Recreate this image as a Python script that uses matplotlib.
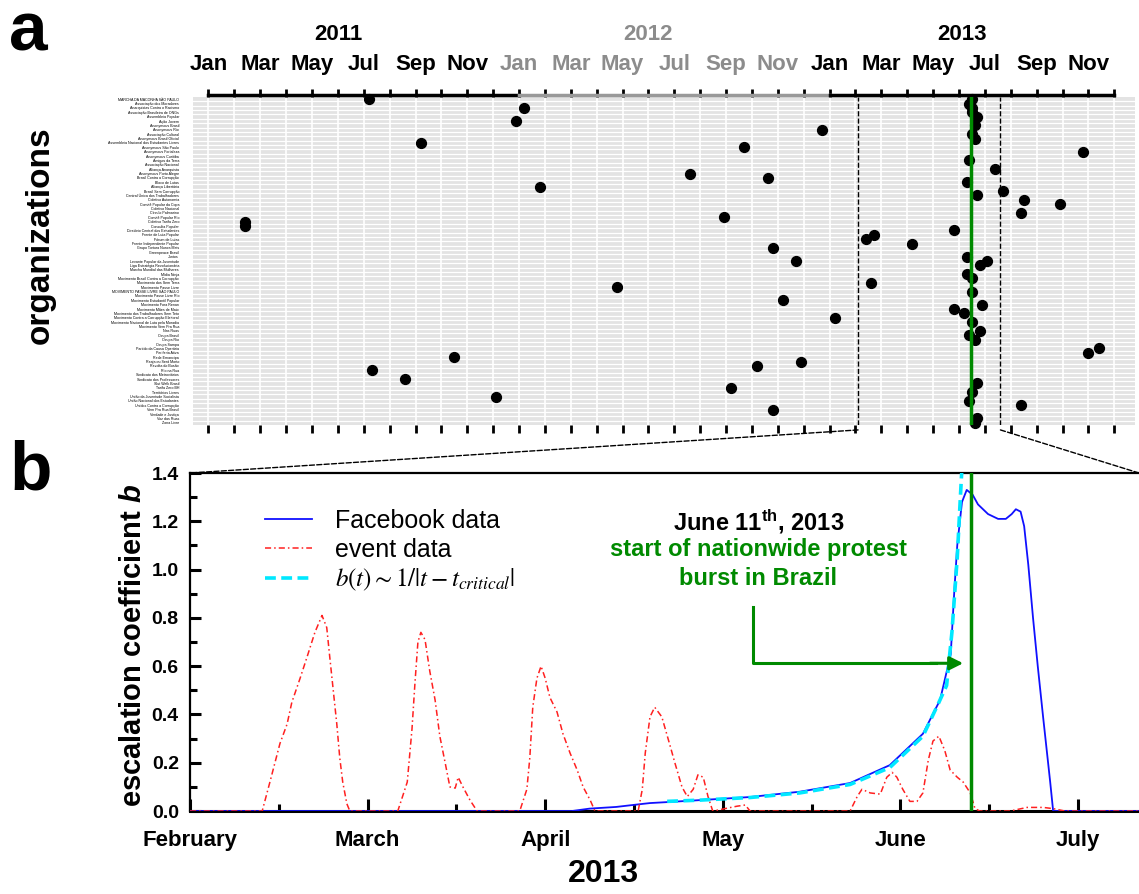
import matplotlib
matplotlib.use('Agg')
import matplotlib.pyplot as plt
import matplotlib.transforms as mtransforms
from matplotlib.patches import ConnectionPatch
from matplotlib.ticker import MultipleLocator, FormatStrFormatter

plt.rcParams['font.family'] = ['Liberation Sans', 'DejaVu Sans']
plt.rcParams['mathtext.fontset'] = 'custom'
plt.rcParams['mathtext.rm'] = 'Liberation Sans:bold'
plt.rcParams['mathtext.it'] = 'Liberation Sans:italic:bold'
plt.rcParams['mathtext.bf'] = 'Liberation Sans:bold'

# ---- panel a: organizations vs time (months since Jan 2011) ----
orgs = [
    "MARCHA DA MACONHA SÃO PAULO", "Associação dos Moradores", "Anarquistas Contra o Racismo",
    "Associação Brasileira de ONGs", "Assembleia Popular", "Ação Jovem", "Anonymous Brasil",
    "Anonymous Rio", "Associação Cultural", "Anonymous Brasil Oficial",
    "Assembleia Nacional dos Estudantes Livres", "Anonymous São Paulo", "Anonymous Fortaleza",
    "Anonymous Curitiba", "Amigos da Terra", "Associação Nacional", "Aliança Anarquista",
    "Anonymous Porto Alegre", "Brasil Contra a Corrupção", "Bloco de Lutas", "Aliança Libertária",
    "Brasil Sem Corrupção", "Central Única dos Trabalhadores", "Coletivo Autonomia",
    "Comitê Popular da Copa", "Coletivo Nacional", "Círculo Palmarino", "Comitê Popular Rio",
    "Coletivo Tarifa Zero", "Consulta Popular", "Diretório Central dos Estudantes",
    "Frente de Luta Popular", "Fórum de Lutas", "Frente Independente Popular",
    "Grupo Tortura Nunca Mais", "Greenpeace Brasil", "Juntos", "Levante Popular da Juventude",
    "Liga Estratégia Revolucionária", "Marcha Mundial das Mulheres", "Mídia Ninja",
    "Movimento Brasil Contra a Corrupção", "Movimento dos Sem Terra", "Movimento Passe Livre",
    "MOVIMENTO PASSE LIVRE SÃO PAULO", "Movimento Passe Livre Rio", "Movimento Estudantil Popular",
    "Movimento Fora Renan", "Movimento Mães de Maio", "Movimento dos Trabalhadores Sem Teto",
    "Movimento Contra a Corrupção Eleitoral", "Movimento Nacional de Luta pela Moradia",
    "Movimento Vem Pra Rua", "Nas Ruas", "Ocupa Brasil", "Ocupa Rio", "Ocupa Sampa",
    "Partido da Causa Operária", "Periferia Ativa", "Rede Emancipa", "Reaja ou Será Morto",
    "Revolta do Busão", "Rio na Rua", "Sindicato dos Metroviários", "Sindicato dos Professores",
    "Slut Walk Brasil", "Tarifa Zero BH", "Territórios Livres", "União da Juventude Socialista",
    "União Nacional dos Estudantes", "Unidos Contra a Corrupção", "Vem Pra Rua Brasil",
    "Verdade e Justiça", "Voz das Ruas", "Zona Livre",
]

event_month = [6.2, 12.2, 11.9, 8.2, 12.8, 1.4, 1.4, 15.8, 9.5, 6.3, 7.6, 11.1,
               23.7, 20.7, 18.6, 21.6, 19.9, 21.8, 22.7, 22.2, 24.2, 22.9, 21.2, 20.2, 21.8,
               33.8, 30.4, 30.7, 31.5, 31.4, 32.9, 25.4, 25.7, 27.2, 28.8, 25.6, 29.9, 28.8,
               29.2, 29.8, 30.1, 29.8, 34.0, 34.4, 31.4,
               29.5, 29.4, 29.5, 29.5, 29.7, 29.6, 29.5, 29.6, 29.4, 29.3, 29.7, 29.3, 29.3,
               29.5, 29.5, 29.5, 29.4, 29.6, 29.7, 29.5, 29.4, 29.7, 29.6]
event_row = [0, 2, 5, 10, 20, 28, 29, 43, 59, 62, 64, 68,
             7, 11, 17, 18, 27, 34, 37, 46, 50, 60, 61, 66, 71,
             12, 16, 21, 23, 26, 24, 32, 31, 33, 30, 42, 47, 48,
             49, 38, 37, 53, 58, 57, 70,
             0, 1, 2, 3, 4, 6, 8, 9, 14, 19, 22, 36, 40,
             41, 44, 51, 54, 55, 65, 67, 69, 73, 74]

month_names = ["Jan", "Feb", "Mar", "Apr", "May", "Jun", "Jul", "Aug", "Sep", "Oct", "Nov", "Dec"]
years = ["2011", "2012", "2013"]
year_centers = [5.0, 17.0, 29.1]
zoom_window = [25.1, 30.6]     # Feb 2013 .. ~Jul 10 2013
protest_month = 29.45          # June 11, 2013

# ---- panel b: escalation coefficient, days since Feb 1 2013 ----
fb_day = [0, 64.5, 67.5, 72, 74.8, 77.7, 80.6, 86, 94.6, 103, 111.5, 118.2, 123.8, 126.7,
          128.5, 129.1, 129.6, 130.4, 131.2, 132.2, 133.1, 134.8, 136.5, 137.8, 138.8, 139.5,
          140.3, 140.9, 141.6, 142.4, 143.2, 144.1, 145.3, 145.8, 160.5]
fb_b = [0, 0, 0.01, 0.017, 0.025, 0.033, 0.037, 0.045, 0.058, 0.08, 0.116, 0.19, 0.32, 0.46,
        0.65, 0.91, 1.1, 1.28, 1.33, 1.31, 1.27, 1.23, 1.21, 1.21, 1.23, 1.25,
        1.24, 1.18, 1.02, 0.8, 0.6, 0.39, 0.12, 0.0, 0.0]

fit_day = [80.6, 86, 94.6, 103, 111.5, 118.2, 123.8, 126.5, 127.8, 128.7, 129.6, 130.3, 130.6]
fit_b = [0.04, 0.045, 0.056, 0.075, 0.11, 0.18, 0.31, 0.45, 0.52, 0.74, 1.05, 1.38, 1.5]

ev_day = [0, 12.2, 13.5, 15.2, 16.4, 17.2, 18.6, 19.8, 21.1, 22.3, 23.1, 23.6, 24.2, 24.8, 25.3,
          25.8, 26.5, 27.0,
          35.1, 36.7, 37.5, 38.0, 38.5, 39.0, 39.7, 40.5, 41.4, 42.2, 43.1, 43.9, 44.8, 45.3,
          46.1, 47.3, 48.5,
          55.7, 56.9, 57.4, 57.9, 58.6, 59.3, 60.0, 60.8, 62.0, 63.0, 64.2, 65.4, 66.4, 67.6, 68.4,
          75.7, 76.4, 76.9, 77.7, 78.5, 79.7, 81.1, 81.9, 83.1, 84.0, 85.0, 85.8, 86.7, 87.5, 88.3,
          92.4, 93.8, 94.6,
          111.5, 112.7, 113.5, 114.9, 116.6, 117.7, 118.6, 119.4, 120.4, 121.6, 122.8, 123.8,
          124.7, 125.5, 126.5, 127.5, 128.4, 129.6, 130.6, 131.8, 132.6, 133.4,
          138.5, 141.4, 144.1, 145.8, 147.8, 160.5]
ev_b = [0, 0, 0.12, 0.28, 0.36, 0.45, 0.55, 0.64, 0.74, 0.81, 0.76, 0.64, 0.5, 0.36, 0.22,
        0.12, 0.03, 0,
        0, 0.12, 0.34, 0.53, 0.7, 0.74, 0.71, 0.58, 0.46, 0.31, 0.2, 0.1, 0.095, 0.14,
        0.1, 0.045, 0,
        0, 0.09, 0.22, 0.43, 0.55, 0.6, 0.55, 0.47, 0.41, 0.32, 0.24, 0.17, 0.1, 0.045, 0,
        0, 0.09, 0.24, 0.39, 0.43, 0.39, 0.27, 0.2, 0.1, 0.06, 0.09, 0.15, 0.14, 0.06, 0,
        0.02, 0.025, 0,
        0, 0.06, 0.09, 0.075, 0.07, 0.14, 0.16, 0.14, 0.09, 0.04, 0.04, 0.075,
        0.21, 0.29, 0.31, 0.25, 0.17, 0.14, 0.12, 0.075, 0.01, 0,
        0, 0.015, 0.015, 0.01, 0, 0]

b_months = [0, 30, 60, 90, 120, 150]
b_month_names = ["February", "March", "April", "May", "June", "July"]
protest_day = 131.9

fig = plt.figure(figsize=(11.39, 8.94), dpi=100)

# ================= panel a =================
ax = fig.add_axes([0.1694, 0.5246, 0.8271, 0.3669])
ax.set_facecolor('#e3e3e3')
ax.set_xlim(-0.6, 35.8)
ax.set_ylim(len(orgs) - 0.5, -0.5)
for s in ax.spines.values():
    s.set_visible(False)

ax.set_yticks(range(len(orgs)))
ax.set_yticklabels(orgs, fontsize=2.6)
ax.set_yticks([i + 0.5 for i in range(len(orgs) - 1)], minor=True)
ax.tick_params(axis='y', which='both', length=0, pad=10)
ax.grid(axis='y', which='minor', color='white', lw=0.9)

ax.set_xticks(range(36))
ax.set_xticklabels([month_names[m % 12] if m % 2 == 0 else '' for m in range(36)],
                   fontsize=16, fontweight='bold')
ax.xaxis.set_ticks_position('both')
ax.tick_params(axis='x', which='major', direction='out', length=6, width=2,
               top=True, bottom=True, labeltop=True, labelbottom=False, pad=10)
ax.grid(axis='x', which='major', color='white', lw=1.2)
ax.set_axisbelow(True)

for m, tick in enumerate(ax.xaxis.get_major_ticks()):
    if 13 <= m <= 23:
        tick.tick2line.set_color('#999999')
    if 12 <= m <= 23:
        tick.label2.set_color('#8c8c8c')

top = mtransforms.blended_transform_factory(ax.transData, ax.transAxes)
ax.plot([0, 12], [1.005, 1.005], color='black', lw=2.5, transform=top, clip_on=False)
ax.plot([12, 24], [1.005, 1.005], color='#999999', lw=2.5, transform=top, clip_on=False)
ax.plot([24, 35], [1.005, 1.005], color='black', lw=2.5, transform=top, clip_on=False)
for yr, xc in zip(years, year_centers):
    ax.text(xc, 1.175, yr, transform=top, ha='center', va='baseline', fontsize=16,
            fontweight='bold', color='#8c8c8c' if yr == "2012" else 'black')

ax.axvline(zoom_window[0], color='black', ls='--', lw=1, zorder=2)
ax.axvline(zoom_window[1], color='black', ls='--', lw=1, zorder=2)
ax.scatter(event_month, event_row, s=50, color='black', zorder=4, clip_on=False)
ax.axvline(protest_month, color='#008a00', lw=2.5, zorder=5)

fig.text(0.035, 0.737, 'organizations', rotation=90, ha='center', va='center',
         fontsize=24, fontweight='bold')
fig.text(0.008, 0.944, 'a', fontsize=50, fontweight='bold', va='baseline')

# ================= panel b =================
bx = fig.add_axes([0.1668, 0.0928, 0.8332, 0.3781])
bx.set_xlim(0, 160.3)
bx.set_ylim(0, 1.4)
bx.spines['right'].set_visible(False)
bx.spines['bottom'].set_linewidth(2.2)
bx.spines['left'].set_linewidth(1.6)
bx.spines['top'].set_linewidth(1.6)

l1, = bx.plot(fb_day, fb_b, color='#1010ff', lw=1.3, zorder=3, label='Facebook data')
l2, = bx.plot(ev_day, ev_b, color='#ff2020', lw=1.1, ls=(0, (4, 2, 1, 2)), zorder=4,
              label='event data')
l3, = bx.plot(fit_day, fit_b, color='#00e8ff', lw=2.6, ls=(0, (3, 1.5)), zorder=5,
              label=r'$b(t) \sim 1/|t-t_{critical}|$')
bx.axvline(protest_day, color='#008a00', lw=2.5, zorder=6)

bx.set_xticks(b_months)
bx.set_xticklabels(b_month_names, fontsize=16, fontweight='bold')
bx.xaxis.set_minor_locator(MultipleLocator(15))
bx.yaxis.set_major_locator(MultipleLocator(0.2))
bx.yaxis.set_minor_locator(MultipleLocator(0.1))
bx.yaxis.set_major_formatter(FormatStrFormatter('%.1f'))
for lab in bx.get_yticklabels():
    lab.set_fontweight('bold')
    lab.set_fontsize(14)
bx.tick_params(axis='x', which='major', direction='in', length=9, width=2.2, pad=14)
bx.tick_params(axis='x', which='minor', direction='in', length=5, width=2.2)
bx.tick_params(axis='y', which='major', direction='in', length=8, width=2.2, pad=8)
bx.tick_params(axis='y', which='minor', direction='in', length=5, width=2.2)

leg = bx.legend(handles=[l1, l2, l3], loc='upper left', bbox_to_anchor=(0.055, 0.96),
                frameon=False, fontsize=18, handlelength=1.9, handletextpad=0.9,
                labelspacing=0.2)
leg.get_texts()[2].set_math_fontfamily('stix')

bx.text(96, 1.2, r'June 11$^{\mathrm{th}}$, 2013', ha='center', va='center', fontsize=17,
        fontweight='bold', color='black')
bx.text(96, 1.085, 'start of nationwide protest', ha='center', va='center', fontsize=17,
        fontweight='bold', color='#008a00')
bx.text(96, 0.965, 'burst in Brazil', ha='center', va='center', fontsize=17,
        fontweight='bold', color='#008a00')
bx.plot([95.1, 95.1, 126], [0.845, 0.612, 0.612], color='#008a00', lw=2.2, zorder=7)
bx.annotate('', xy=(130.6, 0.612), xytext=(125, 0.612),
            arrowprops=dict(arrowstyle='-|>', color='#008a00', lw=2.2, mutation_scale=20,
                            shrinkA=0, shrinkB=0), zorder=7)

fig.text(0.117, 0.2785, r'escalation coefficient $b$', rotation=90, ha='center', va='center',
         fontsize=21, fontweight='bold')
fig.text(0.530, 0.022, '2013', ha='center', va='center', fontsize=23, fontweight='bold')
fig.text(0.008, 0.452, 'b', fontsize=50, fontweight='bold', va='baseline')

# dashed zoom connectors
xa = ax.get_xaxis_transform()
for xa_val, xb_val in zip(zoom_window, [0, 1]):
    con = ConnectionPatch(xyA=(xa_val, -0.015), coordsA=xa, xyB=(xb_val, 1.0),
                          coordsB=bx.transAxes, ls='--', lw=1, color='black')
    fig.add_artist(con)

fig.savefig('out.png', dpi=100)
